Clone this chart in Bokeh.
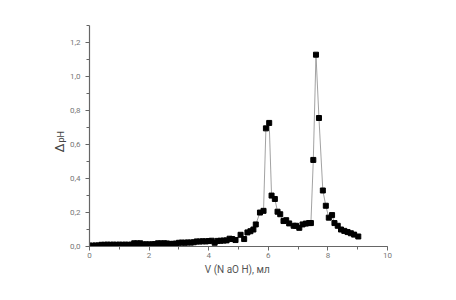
import math
from bokeh.plotting import figure
from bokeh.models import SingleIntervalTicker, CustomJSTickFormatter, Label, Range1d
from bokeh.embed import file_html
from bokeh.resources import INLINE

# Titrant volume, ml
v_naoh = [0.0, 0.1, 0.2, 0.3, 0.4, 0.5, 0.6, 0.7, 0.8, 0.9,
          1.0, 1.1, 1.2, 1.3, 1.4, 1.5, 1.6, 1.7, 1.8, 1.9,
          2.0, 2.1, 2.2, 2.3, 2.4, 2.5, 2.6, 2.7, 2.8, 2.9,
          3.0, 3.1, 3.2, 3.3, 3.4, 3.5, 3.6, 3.7, 3.8, 3.9,
          4.0, 4.1, 4.2, 4.3, 4.4, 4.5, 4.6, 4.7, 4.79, 4.9,
          5.07, 5.19, 5.3, 5.4, 5.5, 5.58, 5.72, 5.84, 5.92, 6.03,
          6.11, 6.22, 6.31, 6.4, 6.51, 6.6, 6.7, 6.85, 6.93, 7.04,
          7.15, 7.26, 7.37, 7.43, 7.51, 7.6, 7.7, 7.83, 7.93, 8.03,
          8.14, 8.22, 8.33, 8.44, 8.55, 8.66, 8.77, 8.88, 9.02]
# delta pH
d_ph = [0.005, 0.005, 0.006, 0.006, 0.010, 0.010, 0.011, 0.010, 0.011, 0.010,
        0.011, 0.010, 0.011, 0.010, 0.011, 0.019, 0.018, 0.019, 0.012, 0.013,
        0.012, 0.013, 0.014, 0.019, 0.018, 0.019, 0.018, 0.015, 0.016, 0.017,
        0.022, 0.023, 0.022, 0.024, 0.023, 0.025, 0.030, 0.029, 0.031, 0.030,
        0.032, 0.034, 0.022, 0.033, 0.034, 0.035, 0.036, 0.046, 0.044, 0.038,
        0.069, 0.044, 0.083, 0.090, 0.100, 0.130, 0.200, 0.210, 0.696, 0.728,
        0.300, 0.280, 0.205, 0.190, 0.150, 0.155, 0.136, 0.122, 0.122, 0.110,
        0.130, 0.135, 0.138, 0.138, 0.510, 1.130, 0.757, 0.330, 0.240, 0.170,
        0.185, 0.138, 0.122, 0.100, 0.092, 0.085, 0.078, 0.070, 0.059]

x_ticks_interval = 2
y_ticks_interval = 0.2

p = figure(width=448, height=290, output_backend="svg", toolbar_location=None,
           x_range=Range1d(0, 10), y_range=Range1d(0, 1.302),
           min_border_left=89, min_border_right=61, min_border_top=25, min_border_bottom=44)
p.outline_line_color = None
p.xgrid.visible = False
p.ygrid.visible = False
p.background_fill_color = "white"
p.border_fill_color = "white"

p.line(v_naoh, d_ph, line_color="#8a8a8a", line_width=0.8)
p.scatter(v_naoh, d_ph, marker="square", size=5, fill_color="black", line_color="black")

axis_col = "#666666"
for ax in (p.xaxis[0], p.yaxis[0]):
    ax.axis_line_color = axis_col
    ax.axis_line_width = 1.2
    ax.major_tick_line_color = axis_col
    ax.minor_tick_line_color = axis_col
    ax.major_tick_in = 0
    ax.major_tick_out = 4
    ax.minor_tick_in = 0
    ax.minor_tick_out = 3
    ax.major_label_text_color = "#777777"
    ax.major_label_text_font = "Roboto"
    ax.major_label_text_font_size = "8px"

p.xaxis.ticker = SingleIntervalTicker(interval=x_ticks_interval, num_minor_ticks=2)
p.yaxis.ticker = SingleIntervalTicker(interval=y_ticks_interval, num_minor_ticks=2)
p.yaxis.formatter = CustomJSTickFormatter(code="return tick.toFixed(1).replace('.', ',');")
p.xaxis.formatter = CustomJSTickFormatter(code="return tick.toFixed(0);")
p.xaxis.major_label_standoff = 2
p.yaxis.major_label_standoff = 5

p.xaxis.axis_label = "V  (N aO H), мл"
p.xaxis.axis_label_text_font = "Roboto"
p.xaxis.axis_label_text_font_style = "normal"
p.xaxis.axis_label_text_font_size = "10px"
p.xaxis.axis_label_text_color = "#555555"
p.xaxis.axis_label_standoff = 3

lab_delta = Label(x=15, y=94, x_units="screen", y_units="screen", text="Δ",
                  angle=math.pi / 2, text_font="Roboto", text_font_size="13px",
                  text_color="#444444", text_align="left", text_baseline="bottom")
lab_ph = Label(x=24, y=104, x_units="screen", y_units="screen", text="pH",
               angle=math.pi / 2, text_font="Roboto", text_font_size="9px",
               text_color="#444444", text_align="left", text_baseline="bottom")
p.add_layout(lab_delta, "left")
p.add_layout(lab_ph, "left")

open("out.html", "w").write(file_html(p, INLINE))
